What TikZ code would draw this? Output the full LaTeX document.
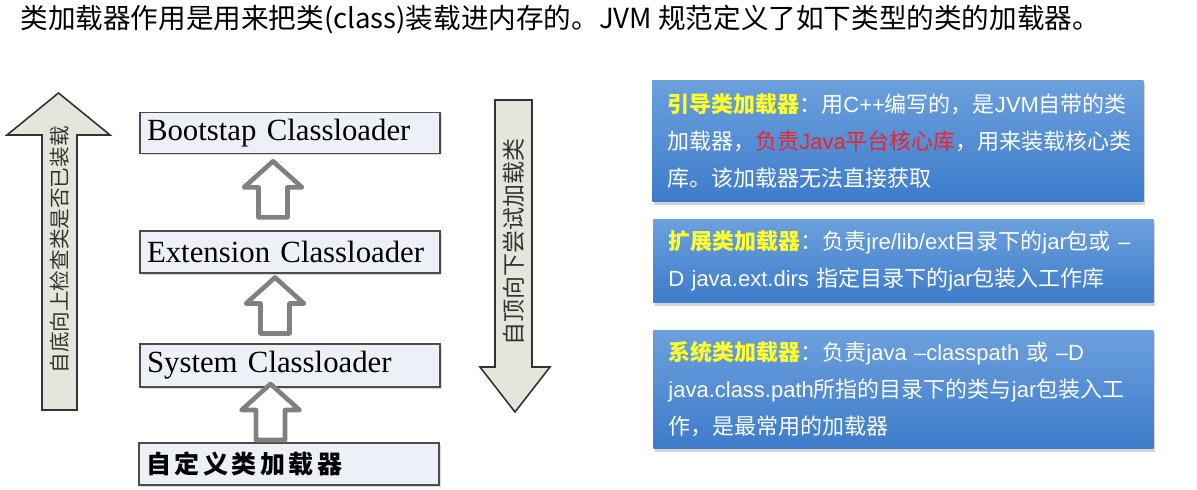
\documentclass[tikz,border=0pt]{standalone}
\usepackage{fontspec}
\setmainfont{Noto Sans CJK SC}
\newfontfamily\latfont{Liberation Sans}
\newfontfamily\serfont{Liberation Serif}
\usetikzlibrary{calc,shadows}
\definecolor{arrowfill}{HTML}{E4E6DC}
\definecolor{boxfill}{HTML}{EEF0F7}
\definecolor{blueTop}{HTML}{6CA0DD}
\definecolor{blueBot}{HTML}{3D7CCB}
\definecolor{headYellow}{HTML}{FFFF2E}
\definecolor{coreRed}{HTML}{E8262B}
\newcommand{\en}[1]{{\latfont #1}}
\newcommand{\yel}[1]{{\bfseries\color{headYellow}#1}}
\newcommand{\hot}[1]{{\color{coreRed}#1}}

\begin{document}
\begin{tikzpicture}[x=0.5pt,y=-0.5pt,
	loader/.style={draw=black!70, line width=0.8pt, fill=boxfill, minimum width=150pt,
		inner xsep=3.5pt, text width=143pt, align=left,
		drop shadow={opacity=0.3, shadow xshift=0.8pt, shadow yshift=-0.8pt},
		font=\serfont\fontsize{15.4}{15.4}\selectfont},
	infobox/.style={top color=blueTop, bottom color=blueBot, anchor=north west,
		inner xsep=7.5pt, align=left, text=white,
		drop shadow={opacity=0.35, shadow xshift=1pt, shadow yshift=-2pt},
		font=\fontsize{11}{18.5}\selectfont},
	bigarrow/.style={draw=black!80, line width=0.8pt, fill=arrowfill},
	vtext/.style={rotate=90, text=black!80, inner sep=0pt},
	hollow/.pic={\draw[black!50, fill=white, line width=2.3pt, line join=round]
		(0,-28) -- (29,-2) -- (14.5,-2) -- (14.5,28) -- (-14.5,28) -- (-14.5,-2) -- (-29,-2) -- cycle;}]
	\useasboundingbox (0,0) rectangle (1197,490);
	% Title
	\node[anchor=west, inner sep=0pt] (title) at (20,20)
		{\fontsize{13.8}{13.8}\selectfont 类加载器作用是用来把类(class)装载进内存的。JVM 规范定义了如下类型的类的加载器。};
	% Big arrows
	\draw[bigarrow] (42,410) -- (42,135) -- (7,135) -- (58.5,93) -- (110,135) -- (77,135) -- (77,410) -- cycle;
	\node[vtext, font=\fontsize{10.3}{10.3}\selectfont] (upnote) at (60,250) {自底向上检查类是否已装载};
	\draw[bigarrow] (495,100) -- (532,100) -- (532,367) -- (550,367) -- (515,412) -- (480,367) -- (495,367) -- cycle;
	\node[vtext, font=\fontsize{11.5}{11.5}\selectfont] (downnote) at (514,242) {自顶向下尝试加载类};
	% Loaders
	\node[loader, minimum height=20pt] (boot) at (290,133) {Bootstap Classloader};
	\node[loader, minimum height=21pt] (ext)  at (290,252) {Extension Classloader};
	\node[loader, minimum height=21.5pt] (sys)  at (290,365.5) {System Classloader};
	\node[loader, minimum height=21pt] (cust) at (289,464)
		{\normalfont\bfseries\fontsize{12.5}{12.5}\selectfont\addfontfeature{LetterSpace=14}自定义类加载器};
	% Hollow arrows
	\pic at ($(ext.north)!0.5!(boot.south)+(-17,-3)$) {hollow};
	\pic at ($(sys.north)!0.5!(ext.south)+(-15,-3)$) {hollow};
	\pic at ($(cust.north)!0.5!(sys.south)+(-19,-3)$) {hollow};
	% Info boxes
	\node[infobox, text width=230.5pt, minimum height=60.5pt] (bootinfo) at (652,80)
		{\yel{引导类加载器}：用\en{C++}编写的，是\en{JVM}自带的类\\
		加载器，\hot{负责\en{Java}平台核心库}，用来装载核心类\\
		库。该加载器无法直接获取};
	\node[infobox, text width=235pt, minimum height=41.5pt] (extinfo) at (653,219)
		{\yel{扩展类加载器}：负责\en{jre/lib/ext}目录下的\en{jar}包或 \en{–}\\
		\en{D java.ext.dirs} 指定目录下的\en{jar}包装入工作库};
	\node[infobox, text width=235pt, minimum height=59pt] (sysinfo) at (653,330)
		{\yel{系统类加载器}：负责\en{java –classpath} 或 \en{–D}\\
		\en{java.class.path}所指的目录下的类与\en{jar}包装入工\\
		作，是最常用的加载器};
\end{tikzpicture}
\end{document}
